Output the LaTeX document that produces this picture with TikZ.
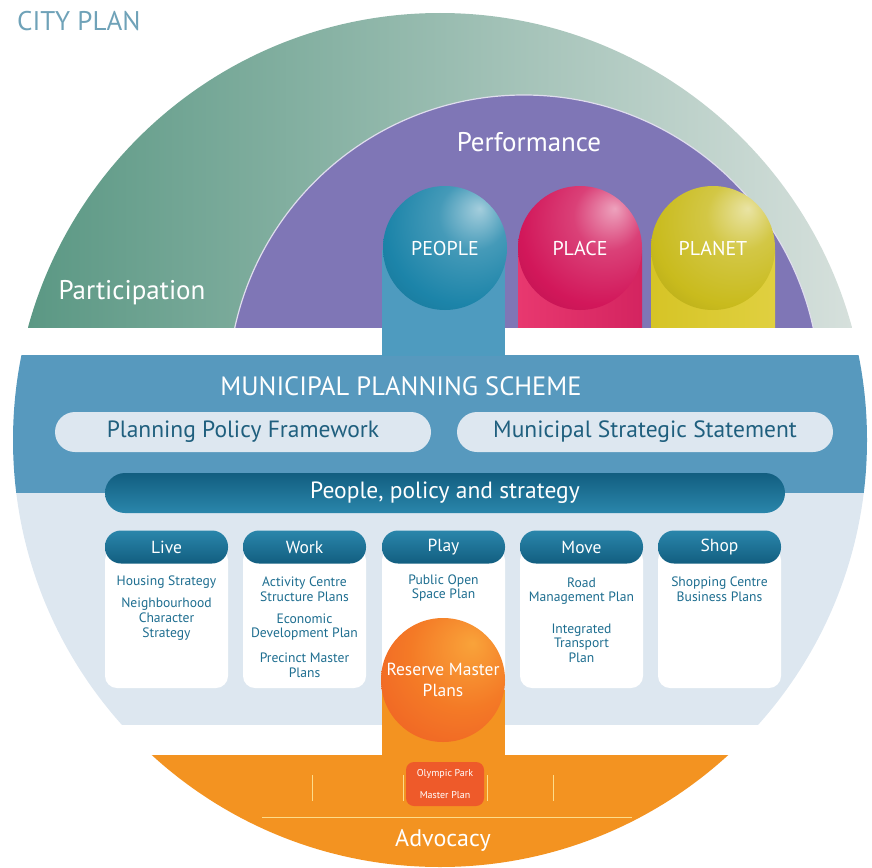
\documentclass[tikz,border=0pt]{standalone}
\usepackage{fontspec}
\setmainfont{PT Sans}
\usetikzlibrary{calc}

% palette
\definecolor{greenL}{HTML}{5B9884}
\definecolor{greenR}{HTML}{D6E0DC}
\definecolor{purpleC}{HTML}{7F76B6}
\definecolor{blueBand}{HTML}{5799BE}
\definecolor{lightBand}{HTML}{DDE7F0}
\definecolor{pillText}{HTML}{1F5F7E}
\definecolor{tealTop}{HTML}{2A86AB}
\definecolor{tealBot}{HTML}{125E80}
\definecolor{boxText}{HTML}{1E6E90}
\definecolor{titleC}{HTML}{6FA2B8}
\definecolor{peopleC}{HTML}{1C84A9}
\definecolor{placeC}{HTML}{D2175A}
\definecolor{planetC}{HTML}{C9BB1D}
\definecolor{peopleCol}{HTML}{4E9BBF}
\definecolor{placeColL}{HTML}{E8386F}
\definecolor{placeColR}{HTML}{D42460}
\definecolor{planetColL}{HTML}{D6C426}
\definecolor{planetColR}{HTML}{E0D040}
\definecolor{orangeC}{HTML}{F39321}
\definecolor{orangeHi}{HTML}{F9A33A}
\definecolor{orangeMid}{HTML}{F47A26}
\definecolor{orangeLo}{HTML}{EC5024}
\definecolor{olyC}{HTML}{EE5A2A}
\definecolor{guideC}{HTML}{FDDC8A}

% glossy sphere, highlight towards the upper right
\makeatletter
\pgfdeclareradialshading[tikz@ball]{glossy}{\pgfpoint{14bp}{16bp}}{%
  color(0bp)=(tikz@ball!40!white);
  color(14bp)=(tikz@ball!82!white);
  color(32bp)=(tikz@ball);
  color(52bp)=(tikz@ball!80!black);
  color(75bp)=(tikz@ball!70!black)}
\makeatother
\pgfdeclareradialshading{orangeball}{\pgfpoint{12bp}{15bp}}{%
  color(0bp)=(orangeHi);
  color(22bp)=(orangeMid);
  color(55bp)=(orangeLo);
  color(75bp)=(orangeLo)}

\tikzset{
  sphere/.style={circle, ball color=#1, shading=glossy, minimum size=124pt,
    inner sep=0pt, text=white, font=\fontsize{20}{24}\selectfont},
  lightpill/.style={rounded corners=20pt, fill=lightBand, text=pillText,
    minimum height=40pt, inner sep=0pt, font=\fontsize{23.5}{26}\selectfont},
  darkpill/.style={rounded corners=20pt, top color=tealBot, bottom color=tealTop,
    minimum height=40pt, inner sep=0pt, text=white, font=\fontsize{23.5}{26}\selectfont},
  header/.style={rounded corners=16pt, top color=tealTop, bottom color=tealBot,
    minimum width=123pt, minimum height=33pt, inner sep=0pt, text=white,
    font=\fontsize{17.5}{20}\selectfont},
  boxbody/.style={rounded corners=12pt, fill=white, minimum width=123pt,
    minimum height=140pt, inner sep=0pt},
  item/.style={align=center, text=boxText, inner sep=0pt,
    font=\fontsize{13.6}{14.6}\selectfont},
  bigtext/.style={text=white, inner sep=0pt, font=\fontsize{27}{30}\selectfont},
  guide/.style={draw=guideC, line width=0.9pt},
}

\begin{document}
\begin{tikzpicture}[x=1pt, y=-1pt]
\useasboundingbox (0,0) rectangle (872,867);

% the disc and its horizontal bands
\begin{scope}
  \clip (440,440) circle (427pt);
  \shade[left color=greenL, right color=greenR] (28,0) rectangle (852,327);
  \begin{scope}
    \clip (0,0) rectangle (872,327);
    \fill[purpleC] (524,391) circle (296pt);
    \draw[white!75!purpleC, line width=1.2pt] (524,391) circle (296pt);
  \end{scope}
  \fill[blueBand] (0,355) rectangle (872,493);
  \fill[lightBand] (0,493) rectangle (872,725);
  \fill[orangeC] (0,755) rectangle (872,880);
\end{scope}

% title and arc labels
\node[anchor=west, text=titleC, inner sep=0pt, font=\fontsize{27}{30}\selectfont] (title) at (17,21) {CITY PLAN};
\node[bigtext] (participation) at (132,293) {Participation};
\node[bigtext] (performance) at (529,142) {Performance};

% stems under the three spheres
\fill[peopleCol] (382,250) rectangle (505,356);
\shade[left color=placeColL, right color=placeColR] (518,250) rectangle (642,327);
\shade[left color=planetColL, right color=planetColR] (651,250) rectangle (775,327);

\node[sphere=peopleC] (people) at (445,248) {PEOPLE};
\node[sphere=placeC] (place) at (580,248) {PLACE};
\node[sphere=planetC] (planet) at (713,248) {PLANET};

% planning scheme band
\node[text=white, inner sep=0pt, font=\fontsize{26.5}{30}\selectfont] (mps) at (401,386) {MUNICIPAL PLANNING SCHEME};
\node[lightpill, minimum width=376pt] (ppf) at (243,432) {Planning Policy Framework};
\node[lightpill, minimum width=376pt] (mss) at (645,432) {Municipal Strategic Statement};
\node[darkpill, minimum width=680pt] (pps) at (445,493) {People, policy and strategy};

% five theme columns
\foreach \nm/\cx in {live/166.5, work/304.5, play/443.5, move/581.5, shop/719.5}{
  \node[boxbody] (\nm body) at (\cx,618) {};
}
\node[header] (live) at (166.5,547) {Live};
\node[header] (work) at (304.5,547) {Work};
\node[header] (play) at (443.5,547) {Play};
\node[header] (move) at (581.5,547) {Move};
\node[header] (shop) at (719.5,547) {Shop};

\node[item] (housing) at (166.5,582) {Housing Strategy};
\node[item] (character) at (166.5,619) {Neighbourhood\\Character\\Strategy};

\node[item] (activity) at (304.5,589) {Activity Centre\\Structure Plans};
\node[item] (economic) at (304.5,627) {Economic\\Development Plan};
\node[item] (precinct) at (304.5,665) {Precinct Master\\Plans};

\node[item] (openspace) at (443.5,588) {Public Open\\Space Plan};

\node[item] (road) at (581.5,591) {Road\\Management Plan};
\node[item] (transport) at (581.5,643) {Integrated\\Transport\\Plan};

\node[item] (shopping) at (719.5,589) {Shopping Centre\\Business Plans};

% reserve master plans sphere and its stem into advocacy
\fill[orangeC] (382,690) rectangle (505,757);
\node[circle, minimum size=124pt, inner sep=0pt, shading=orangeball, text=white,
  align=center, font=\fontsize{17.5}{21}\selectfont] (reserve) at (443,680) {Reserve Master\\Plans};

% advocacy segment
\node[rounded corners=8pt, fill=olyC, minimum width=78pt, minimum height=44pt,
  inner sep=0pt, text=white, align=center, font=\fontsize{10}{22}\selectfont] (oly) at (445,784) {Olympic Park\\Master Plan};
\draw[guide] (312,775) -- (312,801);
\draw[guide] (403,775) -- (403,801);
\draw[guide] (487,775) -- (487,801);
\draw[guide] (553,775) -- (553,801);
\draw[guide] (262,817) -- (632,817);
\node[text=white, inner sep=0pt, font=\fontsize{24}{28}\selectfont] (advocacy) at (443,840) {Advocacy};
\end{tikzpicture}
\end{document}
